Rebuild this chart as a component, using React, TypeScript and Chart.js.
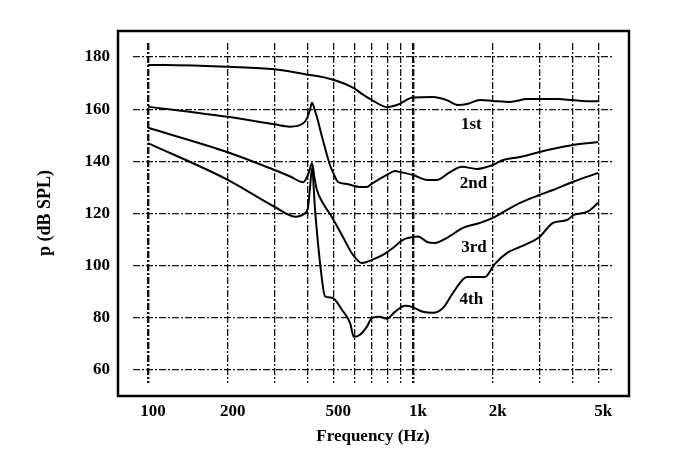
import { useEffect, useRef } from "react"
import { Chart, registerables, Plugin } from "chart.js"

Chart.register(...registerables)

// frequency (Hz) / level (dB SPL), one pair of arrays per mode
const freq1st = [100, 157, 200, 300, 400, 500, 600, 650, 700, 800, 870, 1000, 1190, 1340, 1480, 1600, 1790, 2000, 2320, 2700, 3000, 3500, 4000, 4500, 5000]
const level1st = [177, 176.7, 176.3, 175.3, 173.3, 171.3, 168, 165.5, 163.5, 160.8, 161.6, 164.5, 164.7, 163.5, 161.6, 162, 163.5, 163.2, 162.8, 163.9, 163.9, 163.9, 163.5, 163.1, 163.1]

const freq2nd = [100, 200, 300, 343, 385, 398, 408, 416, 425, 434, 457, 486, 500, 521, 564, 631, 670, 700, 797, 855, 893, 1000, 1130, 1232, 1379, 1531, 1744, 1903, 2000, 2187, 2535, 3000, 3494, 4000, 5000]
const level2nd = [161, 157.1, 154.2, 153.3, 154.6, 156.5, 159.5, 162.5, 160, 157, 148.2, 138.6, 135.6, 132.1, 131.3, 130.2, 130.2, 131.5, 134.8, 136.3, 135.9, 134.8, 132.9, 132.9, 135.9, 137.9, 137.1, 137.9, 138.6, 140.5, 141.7, 143.6, 145.1, 146.3, 147.4]

const freq3rd = [100, 200, 300, 343, 385, 400, 408, 416, 426, 434, 457, 494, 544, 594, 642, 700, 770, 840, 916, 1000, 1045, 1130, 1211, 1343, 1545, 1791, 2000, 2265, 2535, 3000, 3374, 4000, 5000]
const level3rd = [152.9, 143.5, 136.7, 134.3, 132, 134.5, 137, 139.3, 133, 129, 124, 118.7, 111, 104.1, 101, 102.2, 104.1, 106.8, 109.9, 111, 111.2, 109.1, 108.7, 110.7, 114.5, 116.4, 118.3, 121.4, 124.1, 127.1, 129, 132.1, 135.6]

const freq4th = [100, 200, 300, 359, 391, 401, 408, 416, 427, 446, 466, 495, 540, 579, 598, 631, 670, 700, 750, 797, 855, 933, 991, 1091, 1190, 1298, 1416, 1599, 1871, 2021, 2265, 2535, 3000, 3374, 3810, 4050, 4536, 5000]
const level4th = [147, 132.9, 122.6, 118.8, 120.1, 122, 129, 137.4, 121.4, 101, 88.2, 87.7, 83, 78, 72.7, 73.5, 76.6, 80, 80.4, 79.6, 82.3, 84.6, 84.2, 82.3, 81.9, 83.8, 89.6, 95.7, 95.7, 100.3, 104.9, 107.2, 111, 116.4, 117.5, 119.5, 120.6, 124.1]

// curve names and where they are written
const curveLabels = ["1st", "2nd", "3rd", "4th"]
const labelFreqs = [1660, 1690, 1700, 1660]
const labelLevels = [154.2, 131.3, 106.8, 86.9]

// axes
const xGridValues = [100, 200, 300, 400, 500, 600, 700, 800, 900, 1000, 2000, 3000, 4000, 5000]
const xTickLabels: Record<number, string> = { 100: "100", 200: "200", 500: "500", 1000: "1k", 2000: "2k", 5000: "5k" }
const yTickValues = [60, 80, 100, 120, 140, 160, 180]

const serif = "'Liberation Serif', 'Times New Roman', serif"

const toPoints = (xs: number[], ys: number[]) => xs.map((x, i) => ({ x, y: ys[i] }))

const frameAndLabels: Plugin<"line"> = {
  id: "frameAndLabels",
  afterDraw(chart) {
    const { ctx, chartArea, scales } = chart
    ctx.save()
    // outer frame, a bit outside the grid
    ctx.strokeStyle = "#000"
    ctx.lineWidth = 2.5
    ctx.strokeRect(chartArea.left - 15, chartArea.top - 12, chartArea.width + 31, chartArea.height + 25)
    // curve names
    ctx.fillStyle = "#000"
    ctx.font = `bold 17px ${serif}`
    ctx.textAlign = "center"
    ctx.textBaseline = "middle"
    curveLabels.forEach((txt, i) => {
      ctx.fillText(txt, scales.x.getPixelForValue(labelFreqs[i]), scales.y.getPixelForValue(labelLevels[i]))
    })
    ctx.restore()
  }
}

// dash-dot grid like the printed figure
const gridDash = [7, 2, 2, 2]

const ModeChart = () => {
  const chartRef = useRef<HTMLCanvasElement>(null)
  const chartInstance = useRef<Chart | null>(null)

  useEffect(() => {
    if (!chartRef.current) return
    const ctx = chartRef.current.getContext("2d")
    if (!ctx) return
    if (chartInstance.current) chartInstance.current.destroy()

    const line = (label: string, xs: number[], ys: number[]) => ({
      label,
      data: toPoints(xs, ys),
      borderColor: "#000",
      borderWidth: 2,
      pointRadius: 0,
      fill: false,
      cubicInterpolationMode: "monotone" as const
    })

    chartInstance.current = new Chart(ctx, {
      type: "line",
      data: {
        datasets: [
          line("1st", freq1st, level1st),
          line("2nd", freq2nd, level2nd),
          line("3rd", freq3rd, level3rd),
          line("4th", freq4th, level4th)
        ]
      },
      options: {
        animation: false,
        responsive: true,
        maintainAspectRatio: false,
        layout: { padding: { top: 43, right: 60, left: 0, bottom: 0 } },
        scales: {
          x: {
            type: "logarithmic",
            min: 87.8,
            max: 5684,
            afterBuildTicks: (scale) => { scale.ticks = xGridValues.map(value => ({ value })) },
            afterFit: (scale) => { scale.height = 69 },
            border: { display: false, dash: gridDash },
            grid: {
              color: "#111",
              lineWidth: (c) => (c.tick && (c.tick.value === 100 || c.tick.value === 1000) ? 2.4 : 1.3),
              drawTicks: false
            },
            ticks: {
              autoSkip: false,
              maxRotation: 0,
              padding: 18,
              labelOffset: 5,
              color: "#000",
              font: { family: serif, size: 17, weight: "bold" },
              callback: (value) => xTickLabels[Number(value)] ?? ""
            },
            title: {
              display: true,
              text: "Frequency (Hz)",
              color: "#000",
              font: { family: serif, size: 17, weight: "bold" },
              padding: { top: 0, bottom: 5 }
            }
          },
          y: {
            min: 55,
            max: 185.4,
            afterBuildTicks: (scale) => { scale.ticks = yTickValues.map(value => ({ value })) },
            afterFit: (scale) => { scale.width = 133 },
            border: { display: false, dash: gridDash },
            grid: {
              color: "#111",
              lineWidth: 1.3,
              drawTicks: false
            },
            ticks: {
              padding: 23,
              color: "#000",
              font: { family: serif, size: 17, weight: "bold" }
            },
            title: {
              display: true,
              text: "p (dB SPL)",
              color: "#000",
              font: { family: serif, size: 18, weight: "bold" },
              padding: { top: 35, bottom: 0 }
            }
          }
        },
        plugins: {
          legend: { display: false },
          tooltip: { enabled: false }
        }
      },
      plugins: [frameAndLabels]
    })

    return () => {
      if (chartInstance.current) {
        chartInstance.current.destroy()
        chartInstance.current = null
      }
    }
  }, [])

  return <canvas ref={chartRef}></canvas>
}

export default function App() {
  return (
    <div style={{ position: "fixed", left: 0, top: 0, width: 673, height: 452, background: "#fff" }}>
      <ModeChart />
    </div>
  )
}
